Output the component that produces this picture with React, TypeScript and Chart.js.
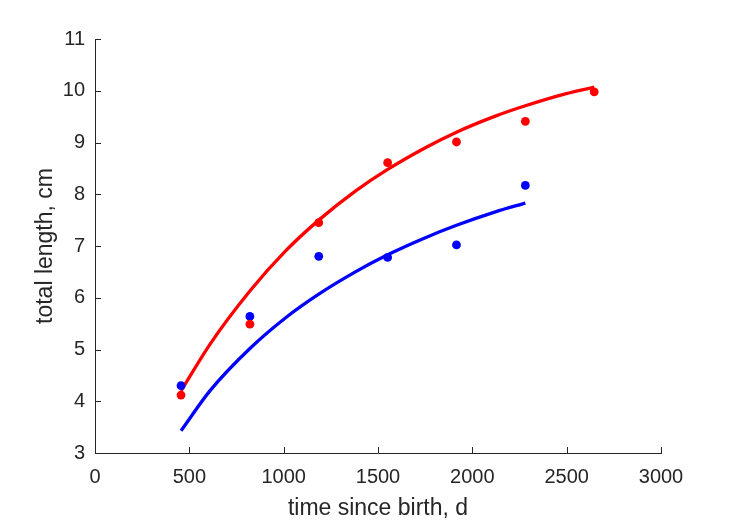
import React, { useEffect, useRef } from "react";
import { Chart, registerables } from "chart.js";

Chart.register(...registerables);

// ---- data ----
const xTickValues = [0, 500, 1000, 1500, 2000, 2500, 3000];
const yTickValues = [3, 4, 5, 6, 7, 8, 9, 10, 11];

const femaleDays = [456, 821, 1186, 1551, 1916, 2281, 2646];
const femaleLength = [4.12, 5.49, 7.45, 8.61, 9.01, 9.41, 9.98];

const maleDays = [456, 821, 1186, 1551, 1916, 2281];
const maleLength = [4.3, 5.64, 6.8, 6.78, 7.02, 8.17];

const femaleFitDays = [456, 611, 821, 1009, 1186, 1380, 1551, 1751, 1916, 2122, 2281, 2493, 2646];
const femaleFitLength = [4.2, 5.11, 6.13, 6.9, 7.5, 8.06, 8.48, 8.9, 9.2, 9.51, 9.71, 9.94, 10.07];

const maleFitDays = [456, 611, 821, 1009, 1186, 1380, 1551, 1751, 1916, 2122, 2281];
const maleFitLength = [3.43, 4.21, 5.02, 5.61, 6.07, 6.5, 6.83, 7.16, 7.4, 7.66, 7.83];

const xTitle = "time since birth, d";
const yTitle = "total length, cm";

const RED = "#ff0000";
const BLUE = "#0000ff";
const AXIS = "#262626";
const FONT = "'Liberation Sans', Arial, Helvetica, sans-serif";

const pairs = (xs: number[], ys: number[]) => xs.map((x, i) => ({ x, y: ys[i] }));

const inwardTicks = {
  id: "inwardTicks",
  afterDatasetsDraw(chart: any) {
    const { ctx, chartArea, scales } = chart;
    const len = 6;
    ctx.save();
    ctx.strokeStyle = AXIS;
    ctx.lineWidth = 1;
    ctx.beginPath();
    xTickValues.forEach((v) => {
      const px = Math.round(scales.x.getPixelForValue(v)) + 0.5;
      ctx.moveTo(px, chartArea.bottom);
      ctx.lineTo(px, chartArea.bottom - len);
    });
    yTickValues.forEach((v) => {
      const py = Math.round(scales.y.getPixelForValue(v)) + 0.5;
      ctx.moveTo(chartArea.left, py);
      ctx.lineTo(chartArea.left + len, py);
    });
    ctx.stroke();
    ctx.restore();
  },
};

export default function App() {
  const ref = useRef<HTMLCanvasElement | null>(null);

  useEffect(() => {
    if (!ref.current) return;
    const chart = new Chart(ref.current, {
      type: "scatter",
      data: {
        datasets: [
          {
            label: "female",
            data: pairs(femaleDays, femaleLength),
            backgroundColor: RED,
            borderColor: RED,
            pointRadius: 4.4,
            pointBorderWidth: 0,
            showLine: false,
            order: 0,
          },
          {
            label: "male",
            data: pairs(maleDays, maleLength),
            backgroundColor: BLUE,
            borderColor: BLUE,
            pointRadius: 4.4,
            pointBorderWidth: 0,
            showLine: false,
            order: 1,
          },
          {
            label: "female fit",
            data: pairs(femaleFitDays, femaleFitLength),
            borderColor: RED,
            backgroundColor: RED,
            borderWidth: 3.3,
            pointRadius: 0,
            showLine: true,
            cubicInterpolationMode: "monotone",
            order: 2,
          },
          {
            label: "male fit",
            data: pairs(maleFitDays, maleFitLength),
            borderColor: BLUE,
            backgroundColor: BLUE,
            borderWidth: 3.3,
            pointRadius: 0,
            showLine: true,
            cubicInterpolationMode: "monotone",
            order: 3,
          },
        ],
      },
      options: {
        animation: false,
        responsive: false,
        layout: { padding: { left: 0, top: 39, right: 68, bottom: 0 } },
        plugins: {
          legend: { display: false },
          tooltip: { enabled: false },
        },
        scales: {
          x: {
            type: "linear",
            min: 0,
            max: 3000,
            afterBuildTicks: (s: any) => {
              s.ticks = xTickValues.map((v) => ({ value: v }));
            },
            afterFit: (s: any) => {
              s.height = 68;
            },
            grid: { display: false, drawTicks: false },
            border: { display: true, color: AXIS, width: 1 },
            ticks: {
              color: AXIS,
              font: { family: FONT, size: 20 },
              padding: 12,
              maxRotation: 0,
              autoSkip: false,
              callback: (v: any) => String(v),
            },
            title: {
              display: true,
              text: xTitle,
              color: AXIS,
              font: { family: FONT, size: 23 },
              padding: { top: 0, bottom: -1 },
            },
          },
          y: {
            type: "linear",
            min: 3,
            max: 11,
            afterBuildTicks: (s: any) => {
              s.ticks = yTickValues.map((v) => ({ value: v }));
            },
            afterFit: (s: any) => {
              s.width = 95;
            },
            grid: { display: false, drawTicks: false },
            border: { display: true, color: AXIS, width: 1 },
            ticks: {
              color: AXIS,
              font: { family: FONT, size: 20 },
              padding: 10,
              autoSkip: false,
              callback: (v: any) => String(v),
            },
            title: {
              display: true,
              text: yTitle,
              color: AXIS,
              font: { family: FONT, size: 23 },
              padding: { top: 32, bottom: 0 },
            },
          },
        },
      },
      plugins: [inwardTicks],
    });
    return () => chart.destroy();
  }, []);

  return (
    <div style={{ position: "absolute", left: 0, top: 0, width: 729, height: 521, background: "#fff" }}>
      <canvas ref={ref} width={729} height={521} style={{ display: "block" }} />
    </div>
  );
}
